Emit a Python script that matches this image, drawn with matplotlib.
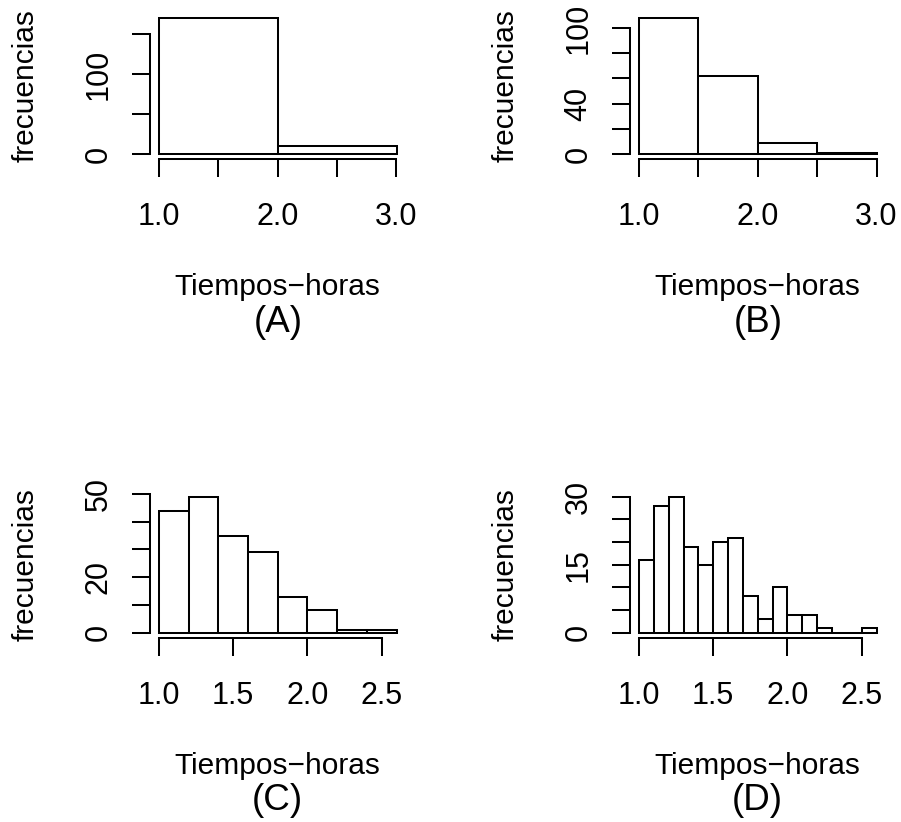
import matplotlib
matplotlib.use("Agg")
import matplotlib.pyplot as plt
import numpy as np

# bin edges and counts
edges_a = [1.0, 2.0, 3.0]
counts_a = [170, 10]

edges_b = [1.0, 1.5, 2.0, 2.5, 3.0]
counts_b = [108, 62, 9, 1]

edges_c = [1.0, 1.2, 1.4, 1.6, 1.8, 2.0, 2.2, 2.4, 2.6]
counts_c = [44, 49, 35, 29, 13, 8, 1, 1]

edges_d = [1.0, 1.1, 1.2, 1.3, 1.4, 1.5, 1.6, 1.7, 1.8,
           1.9, 2.0, 2.1, 2.2, 2.3, 2.4, 2.5, 2.6]
counts_d = [16, 28, 30, 19, 15, 20, 21, 8, 3, 10, 4, 4, 1, 0, 0, 1]

# axis ticks (R pretty) and which of them get a label
xticks_a = [1.0, 1.5, 2.0, 2.5, 3.0]
xlabels_a = ["1.0", "", "2.0", "", "3.0"]
yticks_a = [0, 50, 100, 150]
ylabels_a = ["0", "", "100", ""]

xticks_b = [1.0, 1.5, 2.0, 2.5, 3.0]
xlabels_b = ["1.0", "", "2.0", "", "3.0"]
yticks_b = [0, 20, 40, 60, 80, 100]
ylabels_b = ["0", "", "40", "", "", "100"]

xticks_c = [1.0, 1.5, 2.0, 2.5]
xlabels_c = ["1.0", "1.5", "2.0", "2.5"]
yticks_c = [0, 10, 20, 30, 40, 50]
ylabels_c = ["0", "", "20", "", "", "50"]

xticks_d = [1.0, 1.5, 2.0, 2.5]
xlabels_d = ["1.0", "1.5", "2.0", "2.5"]
yticks_d = [0, 5, 10, 15, 20, 25, 30]
ylabels_d = ["0", "", "", "15", "", "", "30"]

W, H = 901, 822
LW = 1.45
FS = 22


def plothist(ax, edges, counts, xticks, xlabels, yticks, ylabels, sub):

	edges = np.array(edges)
	counts = np.array(counts)

	ax.bar(edges[:-1], counts, width=np.diff(edges), align="edge",
	       facecolor="white", edgecolor="black", linewidth=LW)

	xr = edges[-1] - edges[0]
	ax.set_xlim(edges[0] - 0.04 * xr, edges[-1] + 0.04 * xr)
	ax.set_ylim(-0.04 * counts.max(), 1.04 * counts.max())

	for s in ["top", "right"]:
		ax.spines[s].set_visible(False)
	for s in ["left", "bottom"]:
		ax.spines[s].set_linewidth(LW)
	ax.spines["bottom"].set_bounds(xticks[0], xticks[-1])
	ax.spines["left"].set_bounds(yticks[0], yticks[-1])

	ax.set_xticks(xticks)
	ax.set_xticklabels(xlabels)
	ax.set_yticks(yticks)
	ax.set_yticklabels(ylabels, rotation=90, va="center")
	ax.tick_params(axis="both", direction="out", length=13, width=LW,
	               labelsize=FS)
	ax.tick_params(axis="x", pad=18)
	ax.tick_params(axis="y", pad=13)

	ax.annotate("Tiempos\u2212horas", xy=(0.5, 0), xycoords="axes fraction",
	            xytext=(0, -135.6), textcoords="offset pixels",
	            ha="center", va="baseline", fontsize=21.5)
	ax.annotate(sub, xy=(0.5, 0), xycoords="axes fraction",
	            xytext=(0, -172.3), textcoords="offset pixels",
	            ha="center", va="baseline", fontsize=26.5)
	ax.annotate("frecuencias", xy=(0, 0.5), xycoords="axes fraction",
	            xytext=(-116, 0), textcoords="offset pixels",
	            ha="center", va="baseline", rotation=90, rotation_mode="anchor",
	            fontsize=21.5)


def main():

	plt.rcParams["font.family"] = ["Liberation Sans", "DejaVu Sans"]
	fig = plt.figure(figsize=(W / 100.0, H / 100.0), dpi=100)

	lx = [149.5 / W, 629.5 / W]
	by = [1 - 159.4 / H, 1 - 638.1 / H]
	w = 256.5 / W
	h = 146.8 / H

	ax_a = fig.add_axes([lx[0], by[0], w, h])
	ax_b = fig.add_axes([lx[1], by[0], w, h])
	ax_c = fig.add_axes([lx[0], by[1], w, h])
	ax_d = fig.add_axes([lx[1], by[1], w, h])

	plothist(ax_a, edges_a, counts_a, xticks_a, xlabels_a, yticks_a, ylabels_a, "(A)")
	plothist(ax_b, edges_b, counts_b, xticks_b, xlabels_b, yticks_b, ylabels_b, "(B)")
	plothist(ax_c, edges_c, counts_c, xticks_c, xlabels_c, yticks_c, ylabels_c, "(C)")
	plothist(ax_d, edges_d, counts_d, xticks_d, xlabels_d, yticks_d, ylabels_d, "(D)")

	fig.savefig("out.png", dpi=100)
	plt.close()

	return 0


if __name__ == "__main__":
	import sys
	sys.exit(main())
